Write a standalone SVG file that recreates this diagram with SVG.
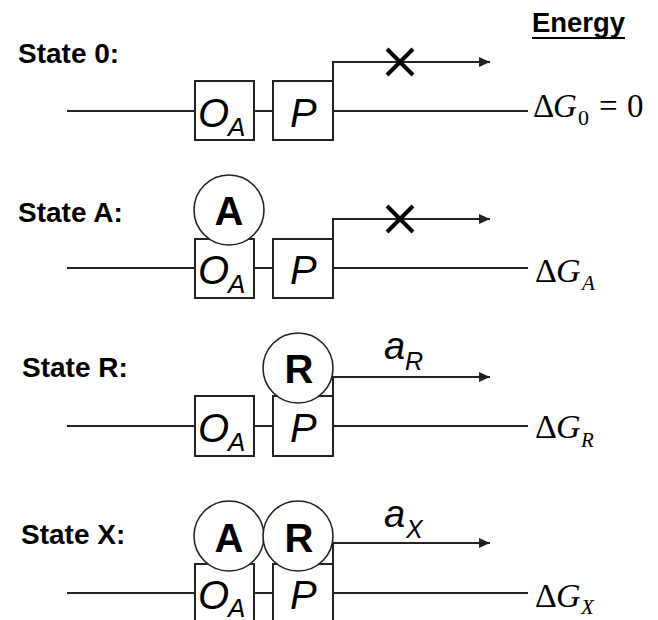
<svg xmlns="http://www.w3.org/2000/svg" width="658" height="620" viewBox="0 0 658 620">
<style>
.ln{stroke:#222;stroke-width:2;fill:none}
.box{stroke:#222;stroke-width:2;fill:#fff}
.circ{stroke:#222;stroke-width:1.6;fill:#fff}
.lbl{font-family:"Liberation Sans",Arial,sans-serif;font-weight:bold;font-size:28px;fill:#000}
.it{font-family:"Liberation Sans",Arial,sans-serif;font-style:italic;fill:#000}
.bt{font-family:"Liberation Sans",Arial,sans-serif;font-weight:bold;font-size:40px;fill:#000;text-anchor:middle}
.tm{font-family:"Liberation Serif","Times New Roman",serif;fill:#000}
.x{stroke:#000;stroke-width:4;fill:none}
</style>
<defs>
<marker id="arr" markerUnits="userSpaceOnUse" markerWidth="11" markerHeight="10" refX="11" refY="5" orient="auto">
<path d="M0,0 L11,5 L0,10 Z" fill="#222"/>
</marker>
</defs>
<rect width="658" height="620" fill="#fff"/>

<text class="lbl" x="532" y="32" font-size="27" textLength="93" lengthAdjust="spacingAndGlyphs">Energy</text>
<line x1="532" y1="38" x2="625" y2="38" stroke="#000" stroke-width="2"/>

<g id="connectors">
<path class="ln" d="M67,111 H195 M254,111 H273 M333,111 H528"/>
<path class="ln" d="M333,81 V62 H490" marker-end="url(#arr)"/>
<path class="x" d="M387,49 L413,75 M413,49 L387,75"/>
<path class="ln" d="M67,268 H195 M254,268 H273 M333,268 H528"/>
<path class="ln" d="M333,239 V219 H490" marker-end="url(#arr)"/>
<path class="x" d="M387,206 L413,232 M413,206 L387,232"/>
<path class="ln" d="M67,426 H195 M254,426 H273 M333,426 H528"/>
<path class="ln" d="M333,396 V377 H490" marker-end="url(#arr)"/>
<path class="ln" d="M67,593 H195 M254,593 H273 M333,593 H528"/>
<path class="ln" d="M333,564 V543 H490" marker-end="url(#arr)"/>
</g>

<g id="state0">
<text class="lbl" x="18" y="63">State 0:</text>
<g id="s0-OA"><rect class="box" x="195" y="81" width="59" height="59"/>
<text class="it" x="198" y="127" font-size="40">O</text><text class="it" x="228" y="136" font-size="26">A</text></g>
<g id="s0-P"><rect class="box" x="273" y="81" width="60" height="59"/>
<text class="it" x="290" y="127" font-size="40">P</text></g>
<g id="s0-energy"><text class="tm" y="117" font-size="33"><tspan x="533">Δ</tspan><tspan x="553" font-style="italic">G</tspan><tspan x="578" y="125" font-size="22">0</tspan><tspan x="599" y="117">=</tspan><tspan x="627">0</tspan></text></g>
</g>

<g id="stateA">
<text class="lbl" x="18" y="222">State A:</text>
<g id="sA-OA"><rect class="box" x="195" y="239" width="59" height="59"/>
<text class="it" x="198" y="284" font-size="40">O</text><text class="it" x="228" y="293" font-size="26">A</text></g>
<g id="sA-P"><rect class="box" x="273" y="239" width="60" height="59"/>
<text class="it" x="290" y="284" font-size="40">P</text></g>
<g id="sA-A"><circle class="circ" cx="229" cy="210" r="35"/><text class="bt" x="229" y="225">A</text></g>
<g id="sA-energy"><text class="tm" y="282" font-size="34"><tspan x="535">Δ</tspan><tspan x="556" font-style="italic">G</tspan><tspan x="582" y="290" font-size="21" font-style="italic">A</tspan></text></g>
</g>

<g id="stateR">
<text class="lbl" x="22" y="377">State R:</text>
<g id="sR-OA"><rect class="box" x="195" y="396" width="59" height="60"/>
<text class="it" x="198" y="442" font-size="40">O</text><text class="it" x="228" y="451" font-size="26">A</text></g>
<g id="sR-P"><rect class="box" x="273" y="396" width="60" height="60"/>
<text class="it" x="290" y="442" font-size="40">P</text></g>
<g id="sR-R"><circle class="circ" cx="298" cy="368" r="35"/><text class="bt" x="299" y="383">R</text></g>
<g id="sR-aR"><text class="it" x="384" y="359" font-size="38">a<tspan x="405" y="370" font-size="25">R</tspan></text></g>
<g id="sR-energy"><text class="tm" y="438" font-size="34"><tspan x="535">Δ</tspan><tspan x="556" font-style="italic">G</tspan><tspan x="581" y="447" font-size="21" font-style="italic">R</tspan></text></g>
</g>

<g id="stateX">
<text class="lbl" x="21" y="544">State X:</text>
<g id="sX-OA"><rect class="box" x="195" y="564" width="59" height="60"/>
<text class="it" x="198" y="609" font-size="40">O</text><text class="it" x="228" y="617" font-size="26">A</text></g>
<g id="sX-P"><rect class="box" x="273" y="564" width="60" height="60"/>
<text class="it" x="290" y="609" font-size="40">P</text></g>
<g id="sX-A"><circle class="circ" cx="229" cy="536" r="35"/><text class="bt" x="229" y="552">A</text></g>
<g id="sX-R"><circle class="circ" cx="298" cy="536" r="35"/><text class="bt" x="299" y="552">R</text></g>
<g id="sX-aX"><text class="it" x="384" y="527" font-size="38">a<tspan x="406" y="538" font-size="25">X</tspan></text></g>
<g id="sX-energy"><text class="tm" y="607" font-size="34"><tspan x="535">Δ</tspan><tspan x="556" font-style="italic">G</tspan><tspan x="581" y="614" font-size="21" font-style="italic">X</tspan></text></g>
</g>
</svg>
